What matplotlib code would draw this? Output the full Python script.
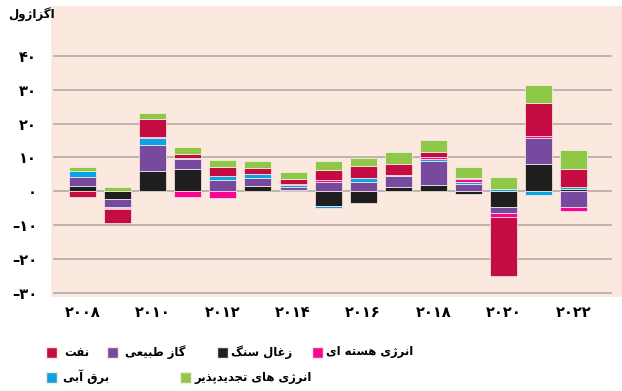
import numpy as np
import matplotlib
matplotlib.use('Agg')
from matplotlib import pyplot as plt
from matplotlib.patches import Rectangle

# داده ها (اگزاژول)
years = np.arange(2008, 2023)
coal    = [1.7, -2.3, 6.1, 6.6, 0.2, 1.7, 0.4, -4.3, -3.5, 1.4, 1.9, -0.7, -4.7, 8.2, 0.7]
gas     = [2.6, -2.4, 7.6, 2.9, 3.0, 2.2, 1.0, 2.6, 2.7, 3.0, 6.9, 2.2, -1.8, 7.4, -4.7]
hydro   = [1.7, -0.1, 2.0, 0.2, 1.3, 1.3, 0.5, -0.5, 1.1, 0.5, 0.7, 0.5, 0.6, -1.0, 0.5]
nuclear = [0.0, -0.3, 0.2, -1.6, -2.1, 0.0, 0.3, 0.6, 0.0, 0.0, 0.6, 0.8, -1.0, 0.7, -1.2]
oil     = [-1.8, -4.3, 5.3, 1.3, 2.8, 1.8, 1.5, 3.2, 3.6, 3.1, 1.6, 0.5, -17.6, 9.9, 5.4]
renew   = [1.3, 1.2, 2.0, 2.1, 1.9, 2.0, 2.0, 2.6, 2.5, 3.5, 3.5, 3.3, 3.5, 5.2, 5.6]

series_names = ['زغال سنگ', 'گاز طبیعی', 'برق آبی', 'انرژی هسته ای', 'نفت', 'انرژی های تجدیدپذیر']
series_vals = [coal, gas, hydro, nuclear, oil, renew]
colors = ['#1e1e1e', '#774a9f', '#0aa3e3', '#f7068e', '#c40c42', '#8fc748']

yticks = [40, 30, 20, 10, 0, -10, -20, -30]
ytick_labels = ['۴۰', '۳۰', '۲۰', '۱۰', '۰', '–۱۰', '–۲۰', '–۳۰']
xticks = [2008, 2010, 2012, 2014, 2016, 2018, 2020, 2022]
xtick_labels = ['۲۰۰۸', '۲۰۱۰', '۲۰۱۲', '۲۰۱۴', '۲۰۱۶', '۲۰۱۸', '۲۰۲۰', '۲۰۲۲']
unit = 'اگزاژول'

# شکل دهی حروف فارسی (matplotlib خودش اتصال حروف را انجام نمی دهد)
FORMS = {
    'ا': ('\uFE8D', '\uFE8E', None, None),
    'آ': ('\uFE81', '\uFE82', None, None),
    'ب': ('\uFE8F', '\uFE90', '\uFE91', '\uFE92'),
    'پ': ('\uFB56', '\uFB57', '\uFB58', '\uFB59'),
    'ت': ('\uFE95', '\uFE96', '\uFE97', '\uFE98'),
    'ج': ('\uFE9D', '\uFE9E', '\uFE9F', '\uFEA0'),
    'د': ('\uFEA9', '\uFEAA', None, None),
    'ذ': ('\uFEAB', '\uFEAC', None, None),
    'ر': ('\uFEAD', '\uFEAE', None, None),
    'ز': ('\uFEAF', '\uFEB0', None, None),
    'ژ': ('\uFB8A', '\uFB8B', None, None),
    'س': ('\uFEB1', '\uFEB2', '\uFEB3', '\uFEB4'),
    'ط': ('\uFEC1', '\uFEC2', '\uFEC3', '\uFEC4'),
    'ع': ('\uFEC9', '\uFECA', '\uFECB', '\uFECC'),
    'غ': ('\uFECD', '\uFECE', '\uFECF', '\uFED0'),
    'ف': ('\uFED1', '\uFED2', '\uFED3', '\uFED4'),
    'ق': ('\uFED5', '\uFED6', '\uFED7', '\uFED8'),
    'گ': ('\uFB92', '\uFB93', '\uFB94', '\uFB95'),
    'ل': ('\uFEDD', '\uFEDE', '\uFEDF', '\uFEE0'),
    'ن': ('\uFEE5', '\uFEE6', '\uFEE7', '\uFEE8'),
    'و': ('\uFEED', '\uFEEE', None, None),
    'ه': ('\uFEE9', '\uFEEA', '\uFEEB', '\uFEEC'),
    'ی': ('\uFBFC', '\uFBFD', '\uFBFE', '\uFBFF'),
}


def fa(s):
    out = []
    for i, ch in enumerate(s):
        if ch not in FORMS:
            out.append(ch)
            continue
        prev = s[i - 1] if i > 0 else None
        nxt = s[i + 1] if i + 1 < len(s) else None
        jp = prev in FORMS and FORMS[prev][2] is not None
        jn = FORMS[ch][2] is not None and nxt in FORMS
        iso, fin, ini, med = FORMS[ch]
        if jp and jn:
            out.append(med)
        elif jp:
            out.append(fin)
        elif jn:
            out.append(ini)
        else:
            out.append(iso)
    return ''.join(reversed(out))


plt.rcParams['font.family'] = ['DejaVu Sans']
W, H = 622, 391
fig = plt.figure(figsize=(W / 100, H / 100), dpi=100)
ax = fig.add_axes([51 / W, (H - 297) / H, 1 - 51 / W, 291 / H])
ax.set_facecolor('#fbe9df')
for s in ax.spines.values():
    s.set_visible(False)

for t in yticks:
    ax.axhline(t, xmin=3 / 571, xmax=560 / 571, color='#aea6a2', lw=1.1, zorder=0)

pos_base = np.zeros(len(years))
neg_base = np.zeros(len(years))
for vals, c in zip(series_vals, colors):
    v = np.array(vals)
    base = np.where(v >= 0, pos_base, neg_base)
    ax.bar(years, v, bottom=base, width=0.77, color=c, edgecolor='#fdf1ea', linewidth=0.5, zorder=2)
    pos_base += np.where(v > 0, v, 0)
    neg_base += np.where(v < 0, v, 0)

ax.set_xlim(2007.10, 2023.38)
ax.set_ylim(-31.2, 54.7)
ax.set_yticks(yticks)
ax.set_yticklabels(ytick_labels, fontsize=10.5, fontweight='bold')
ax.set_xticks(xticks)
ax.set_xticklabels(xtick_labels, fontsize=10.5, fontweight='bold')
ax.tick_params(length=0)
ax.tick_params(axis='y', pad=10)
ax.tick_params(axis='x', pad=6)

fig.text(8 / W, 1 - 15 / H, fa(unit), fontsize=8.5, fontweight='bold', ha='left', va='center')

# راهنما: (x مربع, x متن, y) به پیکسل
leg_pos = [(217, 231, 352), (107, 125, 352), (46, 63, 377), (312, 326, 352), (46, 64, 352), (180, 195, 377)]
for name, c, (px, tx, py) in zip(series_names, colors, leg_pos):
    fig.add_artist(Rectangle((px / W, 1 - (py + 5.5) / H), 11 / W, 11 / H,
                             transform=fig.transFigure, facecolor=c, edgecolor='#fbe9df', lw=1))
    fig.text(tx / W, 1 - py / H, fa(name), fontsize=8.4, fontweight='bold',
             ha='left', va='center')

fig.savefig('out.png', dpi=100)
